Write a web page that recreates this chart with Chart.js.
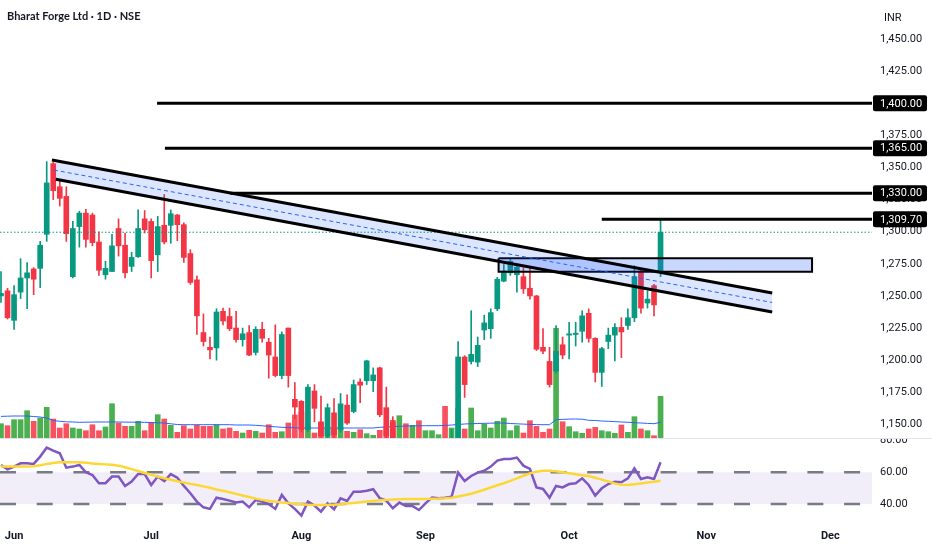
<!DOCTYPE html>
<html>
<head>
<meta charset="utf-8">
<script src="https://cdn.jsdelivr.net/npm/chart.js@4.4.1/dist/chart.umd.min.js"></script>
<style>
  html, body { margin: 0; padding: 0; background: #fff; }
  #wrap { position: relative; width: 932px; height: 550px; overflow: hidden; color: #131722; }
  #pricePane { position: absolute; left: 0; top: 0; width: 932px; height: 438px; }
  #rsiPane { position: absolute; left: 0; top: 438px; width: 932px; height: 112px; }
  #sep { position: absolute; left: 0; top: 438px; width: 932px; height: 1px; background: #e0e3eb; }
  #title { position: absolute; left: 7px; top: 9px; font: bold 11px Lato, sans-serif; }
  #currency { position: absolute; left: 884px; top: 11px; font: 11px Roboto, sans-serif; }
</style>
</head>
<body>
<div id="wrap">
  <div id="pricePane"><canvas id="priceChart" width="932" height="438"></canvas></div>
  <div id="rsiPane"><canvas id="rsiChart" width="932" height="112"></canvas></div>
  <div id="sep"></div>
  <div id="title">Bharat Forge Ltd · 1D · NSE</div>
  <div id="currency">INR</div>
</div>
<script>
// daily candles, bar 0 = 29 May, bar 2 = 2 Jun ... bar 101 = 23 Oct
const opens = [
  1250, 1254, 1231, 1253, 1264, 1271, 1271.5, 1298, 1353, 1335,
  1327.5, 1265, 1304, 1314.5, 1313, 1292, 1266.5, 1269, 1302.5, 1289.5,
  1273, 1280.5, 1310, 1308, 1282, 1305, 1305, 1313, 1305.5, 1283,
  1262.5, 1221.5, 1210, 1209.5, 1238, 1234, 1225, 1216, 1221.5, 1206,
  1224, 1214, 1202.5, 1188, 1225, 1169.5, 1168, 1146, 1176, 1152,
  1141, 1159, 1146, 1165, 1160, 1183, 1184, 1184, 1194, 1163,
  1152, 1128, 1135, 1129, 1131, 1123, 1132, 1136, 1139, 1131,
  1138, 1202.5, 1199, 1198.5, 1223.5, 1224.5, 1240, 1261.5, 1268, 1266.5,
  1265, 1256, 1250, 1210, 1199, 1191.5, 1212, 1219.5, 1220, 1222.5,
  1236.5, 1217, 1190.5, 1214.5, 1219.5, 1225.5, 1227, 1233, 1269.5, 1244.5,
  1258, 1268.5
];
const highs = [
  1269, 1256, 1258, 1279, 1276, 1272, 1292.5, 1354.5, 1354, 1339.5,
  1335, 1308, 1316, 1317.5, 1314.5, 1300, 1277, 1298, 1310, 1299,
  1284, 1317, 1316.5, 1310, 1312, 1329, 1317, 1313.5, 1307, 1286,
  1265.5, 1236, 1218, 1240, 1240.5, 1240.5, 1238, 1225, 1227, 1226,
  1229.5, 1217, 1227.5, 1222, 1225, 1182.5, 1168.5, 1181, 1181, 1172,
  1166, 1170, 1174, 1173, 1184.5, 1185.5, 1200, 1194, 1194.5, 1179,
  1156, 1138, 1138, 1137, 1136, 1136, 1139, 1139, 1139, 1146,
  1214.5, 1203.5, 1238.5, 1218, 1235, 1240, 1264.5, 1274.5, 1278.5, 1273.5,
  1272, 1272, 1250.5, 1224.5, 1210, 1227, 1218, 1229.5, 1229.5, 1238.5,
  1240, 1217.5, 1210, 1225, 1228.5, 1233, 1240, 1273.5, 1271, 1254,
  1259, 1309.5
];
const lows = [
  1245, 1232, 1224, 1248, 1240, 1251, 1256.5, 1292.5, 1325, 1320,
  1292.5, 1264, 1288, 1288, 1289, 1266, 1263, 1269, 1281, 1264,
  1269, 1280, 1299, 1264, 1269, 1290.5, 1291, 1293, 1276, 1259,
  1220, 1211, 1201, 1200, 1227.5, 1223, 1214, 1211, 1203.5, 1204,
  1214, 1186, 1187, 1185.5, 1179, 1154.5, 1144, 1144.5, 1152, 1140,
  1139, 1140, 1144, 1150, 1159, 1167, 1181, 1175.5, 1156, 1138,
  1126, 1120, 1124, 1122, 1118, 1120, 1128, 1130, 1128, 1128,
  1135, 1171, 1197, 1195, 1216, 1217, 1238.5, 1261, 1266, 1253,
  1252, 1247.5, 1207.5, 1205, 1179, 1190, 1201, 1201, 1211, 1214,
  1214, 1183, 1179.5, 1209, 1199.5, 1202, 1224, 1230, 1236.5, 1240.5,
  1234.5, 1265
];
const closes = [
  1252, 1233, 1251, 1264, 1268, 1263, 1289.5, 1338, 1332, 1326,
  1298.5, 1302.5, 1314.5, 1294, 1291.5, 1270, 1271.5, 1289, 1289, 1268,
  1280, 1302.5, 1301.5, 1277.5, 1304, 1292, 1314, 1305.5, 1280, 1260.5,
  1234.5, 1214.5, 1208, 1237.5, 1230.5, 1224.5, 1216, 1220.5, 1204, 1224,
  1217, 1204, 1188, 1220, 1188, 1163.5, 1146, 1179, 1162.5, 1141,
  1163, 1142, 1166, 1151, 1181, 1180.5, 1199.5, 1188.5, 1157.5, 1141,
  1130, 1135, 1130, 1130, 1123, 1132, 1137, 1137, 1134, 1138,
  1202.5, 1181, 1204.5, 1211.5, 1229, 1237, 1263, 1269.5, 1277, 1272.5,
  1255.5, 1250, 1208.5, 1207, 1181, 1207, 1204, 1220.5, 1221, 1234.5,
  1217, 1190.5, 1209, 1219.5, 1225.5, 1222, 1233, 1265, 1240.5, 1247.5,
  1243, 1299.6
];
// volume in millions of shares and its moving average
const volumes = [
  1.43, 1.23, 1.83, 1.83, 2.73, 1.67, 2.00, 3.07, 1.90, 1.00,
  1.43, 1.00, 0.90, 0.73, 1.33, 0.73, 1.10, 3.43, 1.50, 1.17,
  1.17, 1.67, 0.73, 1.57, 2.33, 1.90, 1.27, 0.57, 1.23, 0.90,
  1.27, 1.17, 1.17, 1.33, 0.90, 1.00, 0.67, 0.50, 0.77, 0.67,
  0.50, 1.33, 0.57, 0.63, 1.50, 2.30, 2.60, 1.20, 0.50, 1.50,
  1.00, 0.90, 1.00, 0.67, 0.57, 0.83, 0.43, 0.27, 0.77, 1.20,
  1.77, 2.23, 1.43, 1.27, 1.73, 0.73, 0.73, 0.33, 3.17, 1.00,
  3.00, 0.90, 3.00, 0.73, 1.40, 1.00, 1.67, 2.00, 0.73, 1.23,
  0.50, 1.73, 1.17, 0.57, 0.90, 10.97, 1.63, 1.13, 0.63, 0.47,
  0.90, 1.07, 0.73, 0.63, 0.47, 1.30, 0.57, 2.13, 0.90, 0.73,
  0.23, 4.17
];
const volumeAvg = [
  2.16, 2.18, 2.20, 2.20, 2.20, 2.15, 2.10, 2.00, 1.75, 1.67,
  1.62, 1.60, 1.57, 1.58, 1.59, 1.60, 1.60, 1.61, 1.60, 1.59,
  1.58, 1.57, 1.57, 1.55, 1.52, 1.50, 1.42, 1.35, 1.33, 1.33,
  1.33, 1.33, 1.33, 1.33, 1.33, 1.33, 1.30, 1.30, 1.30, 1.27,
  1.22, 1.17, 1.12, 1.07, 1.04, 1.02, 1.00, 1.00, 1.00, 1.00,
  1.00, 1.00, 1.00, 1.00, 1.00, 1.00, 1.00, 1.00, 1.07, 1.10,
  1.14, 1.17, 1.20, 1.21, 1.22, 1.23, 1.23, 1.23, 1.25, 1.30,
  1.35, 1.40, 1.43, 1.45, 1.47, 1.48, 1.50, 1.50, 1.45, 1.42,
  1.39, 1.36, 1.34, 1.33, 1.33, 1.83, 1.86, 1.89, 1.90, 1.88,
  1.77, 1.75, 1.70, 1.67, 1.64, 1.60, 1.57, 1.53, 1.50, 1.46,
  1.43, 1.57
];
const rsi = [
  64.6, 61.9, 63.6, 65.7, 65.7, 65.3, 69.9, 75.6, 73.7, 72,
  62.9, 63.6, 64.6, 60, 58.3, 53.1, 53.1, 57.3, 57.3, 51.4,
  54.1, 58.9, 58.9, 52, 57.3, 54.5, 58.9, 56.6, 51.4, 46.8,
  41.5, 37.9, 36.9, 44, 43.2, 42.1, 40.9, 41.5, 37.9, 42.5,
  41.5, 40, 36.9, 45.7, 40.4, 36.9, 32.7, 41.5, 39, 35.2,
  40.4, 36.7, 43.6, 41.9, 47.8, 47.8, 48.4, 49.3, 43.6, 42.1,
  37.3, 40.9, 38.8, 38.8, 36.2, 40.4, 44, 43.6, 44, 44.6,
  59.8, 54.5, 57.7, 59.8, 61, 63.6, 67.4, 68.4, 68.4, 69.3,
  64.2, 62.1, 50.5, 49.5, 44, 51.4, 50.5, 52.6, 53.1, 56.2,
  52, 45.3, 49.9, 52.6, 54.1, 53.7, 56.2, 62.5, 55.8, 56.8,
  55.8, 66.3
];
const rsiAvg = [
  63.6, 63.6, 63.6, 63.6, 63.6, 63.8, 64.5, 65.3, 65.9, 66.3,
  66.4, 66.4, 66.3, 66.0, 65.6, 65.3, 65.0, 64.7, 64.2, 63.2,
  62.0, 60.8, 59.6, 58.5, 57.3, 56.2, 55.3, 54.4, 53.5, 52.7,
  52.0, 51.1, 50.2, 49.2, 48.3, 47.4, 46.4, 45.4, 44.4, 43.4,
  42.6, 42.0, 41.5, 41.0, 40.6, 40.2, 39.9, 39.6, 39.4, 39.3,
  39.4, 39.6, 39.9, 40.3, 40.7, 41.1, 41.5, 41.9, 42.3, 42.6,
  42.8, 43.0, 43.1, 43.2, 43.2, 43.2, 43.3, 43.4, 43.6, 44.0,
  44.7, 45.5, 46.5, 47.7, 49.0, 50.4, 51.8, 53.1, 54.6, 56.2,
  57.8, 59.3, 60.4, 61.0, 61.0, 60.6, 60.0, 59.4, 58.8, 58.2,
  57.6, 56.6, 55.4, 54.2, 53.0, 52.2, 52.0, 52.4, 53.0, 53.5,
  54.0, 54.7
];

// axis ticks
const monthTicks = [2, 23, 46, 65, 87, 108, 127];
const monthLabels = ["Jun", "Jul", "Aug", "Sep", "Oct", "Nov", "Dec"];
const priceTicks = [1450, 1425, 1400, 1375, 1350, 1325, 1300, 1275, 1250, 1225, 1200, 1175, 1150];
const rsiTicks = [80, 60, 40];
const rsiBand = [60, 40];

// drawings (bar index, price)
const levels = [1400, 1365, 1330, 1309.7];
const levelStarts = [23.9, 25.1, 35.1, 92.0];
const channelTop = [[7.8, 1355.8], [118.1, 1252.3]];
const channelBottom = [[8.4, 1340.8], [118.1, 1237.5]];
const channelMid = [[8.1, 1348.0], [118.1, 1244.9]];
const zoneX = [76.2, 124.2];
const zoneY = [1268.9, 1279.3];

const X_MIN = -0.153;
const X_MAX = 133.38;

const UP = "#089981";
const DOWN = "#F23645";
const VOL_UP = "#4CAF50";
const VOL_DOWN = "#F7525F";

const fmt = (v) => v.toLocaleString("en-US", { minimumFractionDigits: 2, maximumFractionDigits: 2 });
const pts = (arr) => arr.map((p) => ({ x: p[0], y: p[1] }));

const bars = closes.map((c, i) => i);
const isUp = bars.map((i) => closes[i] >= opens[i]);
const lastClose = closes[closes.length - 1];

const flatLine = (y, from, to) => [{ x: from, y: y }, { x: to, y: y }];

const drawingLine = (data, extra) => Object.assign({
  type: "line",
  data: data,
  borderColor: "#000",
  borderWidth: 3,
  pointRadius: 0,
  fill: false,
  order: 1,
  clip: 0,
}, extra || {});

// black price tags on the right axis for the drawn levels
const levelTags = {
  id: "levelTags",
  afterDraw(chart) {
    const ctx = chart.ctx;
    const y = chart.scales.y;
    ctx.save();
    ctx.font = "11px Roboto";
    ctx.textBaseline = "middle";
    ctx.textAlign = "left";
    levels.forEach((v) => {
      const py = y.getPixelForValue(v);
      ctx.fillStyle = "#000";
      ctx.beginPath();
      ctx.roundRect(873, py - 8, 54, 16, 2);
      ctx.fill();
      ctx.fillStyle = "#fff";
      ctx.fillText(fmt(v), 880, py + 0.5);
    });
    ctx.restore();
  },
};

// PRICE PANE
const priceData = {
  datasets: [
    drawingLine(pts(channelTop)),
    drawingLine(pts(channelBottom), { fill: "-1", backgroundColor: "rgba(41, 98, 255, 0.16)" }),
    drawingLine(pts(channelMid), { borderColor: "#2962FF", borderWidth: 1, borderDash: [4, 3] }),
    drawingLine(pts([[zoneX[0], zoneY[1]], [zoneX[1], zoneY[1]], [zoneX[1], zoneY[0]], [zoneX[0], zoneY[0]], [zoneX[0], zoneY[1]]]),
      { borderWidth: 2, fill: "shape", backgroundColor: "rgba(41, 98, 255, 0.25)" }),
    ...levels.map((v, k) => drawingLine(flatLine(v, levelStarts[k], X_MAX))),
    drawingLine(flatLine(lastClose, X_MIN, X_MAX), { borderColor: UP, borderWidth: 1, borderDash: [1.5, 2], order: 2 }),
    {
      type: "bar",
      data: bars.map((i) => ({ x: i, y: [opens[i], closes[i]] })),
      backgroundColor: bars.map((i) => (isUp[i] ? UP : DOWN)),
      barThickness: 5,
      minBarLength: 1,
      grouped: false,
      order: 3,
      clip: 0,
    },
    {
      type: "bar",
      data: bars.map((i) => ({ x: i, y: [lows[i], highs[i]] })),
      backgroundColor: bars.map((i) => (isUp[i] ? UP : DOWN)),
      barThickness: 1,
      grouped: false,
      order: 4,
      clip: 0,
    },
    {
      type: "line",
      yAxisID: "vol",
      data: bars.map((i) => ({ x: i, y: volumeAvg[i] })),
      borderColor: "#2962FF",
      borderWidth: 1,
      pointRadius: 0,
      order: 5,
      clip: 0,
    },
    {
      type: "bar",
      yAxisID: "vol",
      data: bars.map((i) => ({ x: i, y: volumes[i] })),
      backgroundColor: bars.map((i) => (isUp[i] ? VOL_UP : VOL_DOWN)),
      barThickness: 5,
      grouped: false,
      order: 6,
      clip: 0,
    },
  ],
};

const priceConfig = {
  type: "line",
  data: priceData,
  options: {
    responsive: false,
    animation: false,
    layout: { padding: 0 },
    plugins: { legend: { display: false }, tooltip: { enabled: false } },
    scales: {
      x: { type: "linear", min: X_MIN, max: X_MAX, offset: false, display: false },
      y: {
        type: "linear",
        position: "right",
        min: 1139.4,
        max: 1480.4,
        grid: { display: false, drawTicks: false },
        border: { display: false },
        ticks: {
          color: "#131722",
          font: { family: "Roboto", size: 11 },
          padding: 8,
          callback: (v) => fmt(v),
        },
        afterBuildTicks: (s) => { s.ticks = priceTicks.map((v) => ({ value: v })); },
        afterFit: (s) => { s.width = 60; s.paddingTop = 0; s.paddingBottom = 0; },
      },
      vol: { type: "linear", position: "left", display: false, min: 0, max: 43.8 },
    },
  },
  plugins: [levelTags],
};

const priceChart = new Chart(document.getElementById("priceChart"), priceConfig);

// RSI PANE
const rsiData = {
  datasets: [
    {
      type: "line",
      data: flatLine(rsiBand[0], X_MIN, X_MAX),
      borderColor: "#787B86",
      borderWidth: 2.5,
      borderDash: [16, 20.7],
      pointRadius: 0,
      fill: false,
      order: 4,
    },
    {
      type: "line",
      data: flatLine(rsiBand[1], X_MIN, X_MAX),
      borderColor: "#787B86",
      borderWidth: 2.5,
      borderDash: [16, 20.7],
      pointRadius: 0,
      fill: "-1",
      backgroundColor: "rgba(126, 87, 194, 0.1)",
      order: 4,
    },
    {
      type: "line",
      data: bars.map((i) => ({ x: i, y: rsi[i] })),
      borderColor: "#7E57C2",
      borderWidth: 2.5,
      pointRadius: 0,
      order: 2,
    },
    {
      type: "line",
      data: bars.map((i) => ({ x: i, y: rsiAvg[i] })),
      borderColor: "#FDD835",
      borderWidth: 2.5,
      pointRadius: 0,
      order: 1,
    },
  ],
};

const rsiConfig = {
  type: "line",
  data: rsiData,
  options: {
    responsive: false,
    animation: false,
    layout: { padding: 0 },
    plugins: { legend: { display: false }, tooltip: { enabled: false } },
    scales: {
      x: {
        type: "linear",
        min: X_MIN,
        max: X_MAX,
        offset: false,
        grid: { display: false, drawTicks: false },
        border: { display: false },
        ticks: {
          color: "#131722",
          font: { family: "Roboto", size: 11, weight: "bold" },
          padding: 8,
          maxRotation: 0,
          autoSkip: false,
          callback: (v, i) => monthLabels[i],
        },
        afterBuildTicks: (s) => { s.ticks = monthTicks.map((v) => ({ value: v })); },
        afterFit: (s) => { s.height = 28; s.paddingLeft = 0; s.paddingRight = 0; },
      },
      y: {
        type: "linear",
        position: "right",
        min: 28.64,
        max: 81.64,
        grid: { display: false, drawTicks: false },
        border: { display: false },
        ticks: {
          color: "#131722",
          font: { family: "Roboto", size: 11 },
          padding: 8,
          callback: (v) => fmt(v),
        },
        afterBuildTicks: (s) => { s.ticks = rsiTicks.map((v) => ({ value: v })); },
        afterFit: (s) => { s.width = 60; s.paddingTop = 0; s.paddingBottom = 0; },
      },
    },
  },
};

const rsiChart = new Chart(document.getElementById("rsiChart"), rsiConfig);
</script>
</body>
</html>
